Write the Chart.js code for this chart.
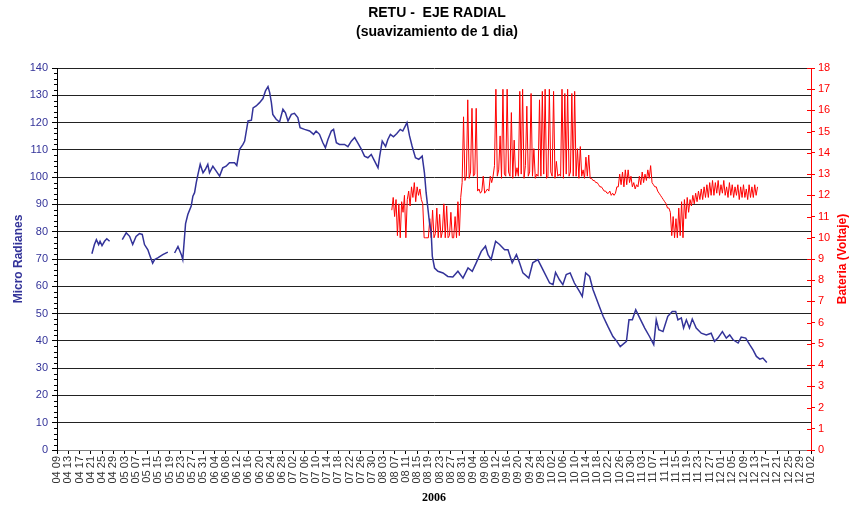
<!DOCTYPE html>
<html>
<head>
<meta charset="utf-8">
<script src="https://cdn.jsdelivr.net/npm/chart.js@4.4.0/dist/chart.umd.min.js"></script>
<style>
  html, body { margin: 0; padding: 0; background: #fff; }
</style>
</head>
<body>
<canvas id="retuChart" width="854" height="509"></canvas>
<script>
// dias contados desde el 9 de abril de 2006
const startDate = Date.UTC(2006, 3, 9);
const dayMax = 268;

const titleLines = ['RETU -  EJE RADIAL', '(suavizamiento de 1 dia)'];

// eje radial (micro radianes)
const blueDay = [12.4, 13.3, 14, 14.8, 15.3, 16, 16.9, 17.7, 18.7, 21,
  23.2, 24.6, 25.8, 26.9, 28.1, 29.3, 30.3, 31.1, 32.3, 32.9, 34, 34.7, 35.8, 37.6, 39.4, 40.5,
  41.8, 43, 44.2, 44.7, 45.7, 46.5, 47.7, 48.3, 48.9, 49.5, 50.1, 50.9, 51.9, 52.7, 53.6, 54.2,
  55.4, 56.6, 57.8, 58.9, 60.1, 61.3, 63.1, 63.9, 64.9, 66.1, 66.7, 67.9, 69.1, 69.7, 70.8, 72,
  73.2, 74.1, 75, 75.6, 76.2, 76.7, 77.9, 79.1, 80.3, 81.2, 82.1, 83.3, 84.4, 85.6, 86.4, 88,
  89.8, 91.2, 92.1, 93.3, 94.5, 95.4, 96.3, 97.5, 98.3, 99.3, 100.4, 102.2, 103.4, 104.6, 105.8,
  106.9, 108.1, 109.3, 110.5, 111.7, 112.9, 114.1, 114.7, 115.6, 116.8, 117.6, 118.5, 119.6,
  120.8, 122, 122.9, 124.4, 125.3, 126.2, 127.4, 128.6, 129.8, 130.6, 131.2, 132.4, 133, 133.4,
  134.2, 135.4, 137.2, 138.9, 140.7, 142.5, 144.3, 146.1, 147.6, 149, 150.8, 152.3, 153.2, 154.3,
  155.9, 157.3, 159.1, 160.3, 161.8, 163.3, 164.4, 165.6, 167.7, 169.1, 170.9, 172.7, 175.1,
  176.3, 177.2, 178.6, 179.8, 181, 182.4, 183.9, 185.7, 186.7, 187.9, 189.3, 190.5, 192.3, 194.1,
  195.8, 197.6, 199, 200.2, 202.4, 203.3, 204.5, 205.7, 207.1, 208.9, 210.6, 212.1, 213, 213.9,
  215.4, 217.1, 218.7, 219.9, 220.7, 221.9, 222.7, 223.7, 224.8, 225.8, 227.2, 229, 230.8, 232.5,
  233.7, 234.9, 236.5, 237.9, 239.1, 240.3, 242.1, 243.2, 244.8, 246.2, 247.4, 248.6, 249.8,
  250.9, 252.3];
const blueVal = [71.9, 75.3, 77.1, 75.3, 76.5, 74.9, 76.5, 77.4, 76.5, null,
  77.1, 79.6, 78.3, 75.3, 78.3, 79.3, 79.0, 75.3, 73.4, 71.6, 68.5, 69.8, 70.4, 71.6, 72.5, null,
  72.2, 74.6, 71.6, 69.8, 83, 86.3, 89.4, 93, 94.3, 98, 101, 104.7, 101.6, 102.8, 104.7, 101.6,
  104, 102.2, 100.4, 103.4, 104, 105.3, 105.3, 104.3, 110.2, 112, 113.2, 120.6, 120.9, 125.4, 126.1, 127.3,
  128.8, 131.6, 133.2, 131, 127.3, 123, 121.2, 120.2, 124.9, 123.6, 120.6, 123, 123.4, 121.8, 118.1, 117.5,
  116.9, 115.7, 116.9, 115.7, 112.6, 110.8, 113.8, 116.9, 117.5, 112.6, 112, 112, 111.2, 113.2, 114.5,
  112.6, 110.4, 107.7, 107.1, 108.3, 105.9, 103.4, 107.7, 113.2, 111.2, 113.8, 115.7, 114.8,
  116, 117.5, 116.9, 120, 115.1, 111.4, 107.1, 106.5, 107.7, 101.6, 94.3, 83.3, 79.6, 71,
  66.7, 65.5, 64.9, 63.6, 63.4, 65.5, 63, 66.7, 65.5, 68.6, 72.8, 74.7, 71.6, 69.8,
  76.5, 75.3, 73.4, 73.4, 68.6, 71.6, 68.6, 64.9, 63, 68.6, 69.8, 66.1, 61.2,
  60.6, 65.1, 62.4, 60.6, 64.3, 64.9, 61.2, 58.1, 56.3, 64.9, 63.6, 58.8, 53.9, 49,
  45.3, 41.6, 39.8, 37.9, 39.8, 47.7, 47.7, 51.4, 48.4, 44.7, 41.6, 38.6, 47.7, 44.1,
  43.4, 49, 50.8, 50.8, 47.7, 48.4, 44.7, 47.7, 44.7, 48, 44.7, 42.8, 42.2, 42.8,
  39.8, 41, 43.4, 41, 42.2, 40.4, 39.2, 41.4, 41, 38.6, 36.7, 34.3, 33.3,
  33.7, 32.1];

// bateria (voltaje), cada medio dia desde el dia 119
const redStart = 119;
const redVals = [
  11.3, 11.9, 11.0, 11.8, 10.1, 11.6, 10.0, 11.7, 11.2, 12.0, 10.0, 11.8, 12.2, 11.5, 12.4, 11.9,
  12.6, 11.7, 12.4, 12.0, 12.3, 11.8, 11.6,
  10.0, 10.0, 10.0, 10.0, 10.9, 10.0, 11.3, 10.0, 10.2, 11.4, 10.0, 11.1, 10.0, 10.3, 11.6, 10.0,
  11.5, 10.0, 10.1, 11.2, 10.0, 10.0, 11.0, 10.0, 11.7, 10.1, 11.9,
  12.6, 15.7, 12.7, 12.9, 16.5, 12.8, 13.1, 16.1, 12.9, 13.0, 16.1,
  12.2, 12.3, 12.1, 12.2, 12.9, 12.1, 12.2, 12.3, 12.2, 12.9, 12.6,
  12.9, 13.4, 17.0, 12.9, 13.2, 14.8, 12.8, 17.0, 13.0, 12.9, 17.0, 13.1, 12.9, 15.9, 12.8, 14.6,
  12.9, 13.3, 12.9, 16.9, 13.0, 17.0, 12.8, 13.4, 16.2, 12.9, 13.1, 16.8, 12.9, 14.2, 12.8, 13.0,
  12.9, 16.5, 12.9, 16.9, 13.0, 17.0, 12.8, 12.9, 17.0, 13.1, 12.9, 16.9, 12.8, 13.6, 12.9, 13.0,
  12.9, 17.0, 12.8, 16.8, 13.0, 17.0, 12.9, 13.1, 16.8, 12.9, 16.9,
  12.9, 14.2, 12.8, 14.3, 12.9, 13.2, 12.8, 13.8, 12.9, 13.9,
  12.8, 12.8, 12.7, 12.7, 12.6, 12.6, 12.5, 12.4, 12.4, 12.3, 12.2, 12.2, 12.1, 12.1, 12.2, 12.0,
  12.1, 12.0, 12.1, 12.4,
  12.4, 13.0, 12.5, 13.1, 12.4, 13.2, 12.5, 13.2, 12.6, 12.9, 12.4, 12.6, 12.3, 12.5, 12.4, 12.9,
  12.5, 13.1, 12.6, 13.0, 12.7, 13.2, 12.8, 13.4,
  12.6, 12.5, 12.4, 12.4, 12.2, 12.1, 12.0, 11.9, 11.8, 11.7, 11.6, 11.4, 11.4, 11.2,
  10.1, 11.0, 10.0, 10.9, 10.0, 11.4, 10.1, 11.7, 10.0, 11.8, 10.9, 11.9, 11.2, 11.8,
  11.5, 12.0, 11.6, 12.1, 11.7, 12.2, 11.8, 12.3, 11.8, 12.4, 11.9, 12.5, 11.9, 12.6, 12.0, 12.7,
  12.0, 12.6, 12.1, 12.7, 12.0, 12.5, 12.1, 12.7, 12.0, 12.4, 11.9, 12.6, 12.0, 12.5, 11.9, 12.4,
  12.0, 12.5, 11.8, 12.4, 11.9, 12.5, 11.9, 12.3, 11.8, 12.5, 11.9, 12.4, 11.9, 12.5, 12.0, 12.4
];

const NAVY = '#333399';
const RED = '#ff0000';
const SANS = "'Liberation Sans', Arial, sans-serif";

function pad2(n) { return (n < 10 ? '0' : '') + n; }
function dayLabel(v) {
  const d = new Date(startDate + v * 86400000);
  return pad2(d.getUTCMonth() + 1) + ' ' + pad2(d.getUTCDate());
}

const blueData = blueDay.map((d, i) => ({ x: d, y: blueVal[i] }));
const redData = redVals.map((v, i) => ({ x: redStart + i * 0.5, y: v }));

// titulo, marcas menores y titulo del eje derecho (texto de abajo hacia arriba)
const extras = {
  id: 'extras',
  afterDraw(chart) {
    const ctx = chart.ctx;
    const yl = chart.scales.y;
    const yr = chart.scales.y2;
    const a = chart.chartArea;
    ctx.save();
    ctx.fillStyle = '#000';
    ctx.font = 'bold 14px ' + SANS;
    ctx.textAlign = 'center';
    ctx.textBaseline = 'middle';
    ctx.fillText(titleLines[0], 437, 13);
    ctx.fillText(titleLines[1], 437, 32);

    ctx.lineWidth = 1;
    ctx.strokeStyle = '#000';
    for (let v = 0; v <= 140; v += 2) {
      if (v % 10 === 0) continue;
      const py = Math.round(yl.getPixelForValue(v)) + 0.5;
      ctx.beginPath();
      ctx.moveTo(a.left - 3, py);
      ctx.lineTo(a.left, py);
      ctx.stroke();
    }
    ctx.strokeStyle = RED;
    for (let v = 0; v <= 18; v++) {
      const py = Math.round(yr.getPixelForValue(v)) + 0.5;
      ctx.beginPath();
      ctx.moveTo(a.right - 4, py);
      ctx.lineTo(a.right, py);
      ctx.stroke();
    }
    ctx.translate(843, (a.top + a.bottom) / 2);
    ctx.rotate(-Math.PI / 2);
    ctx.fillStyle = RED;
    ctx.font = 'bold 12px ' + SANS;
    ctx.fillText('Bateria (Voltaje)', 0, 0);
    ctx.restore();
  }
};

const config = {
  type: 'line',
  data: {
    datasets: [
      {
        label: 'Micro Radianes',
        data: blueData,
        yAxisID: 'y',
        borderColor: NAVY,
        borderWidth: 1.5,
        pointRadius: 0,
        tension: 0,
        spanGaps: false,
        order: 1
      },
      {
        label: 'Bateria (Voltaje)',
        data: redData,
        yAxisID: 'y2',
        borderColor: RED,
        borderWidth: 1,
        pointRadius: 0,
        tension: 0,
        order: 2
      }
    ]
  },
  options: {
    responsive: false,
    animation: false,
    layout: { padding: { top: 68 } },
    plugins: {
      legend: { display: false },
      tooltip: { enabled: false },
      title: { display: false }
    },
    scales: {
      x: {
        type: 'linear',
        min: 0,
        max: dayMax,
        afterFit(scale) { scale.height = 59; },
        grid: { drawOnChartArea: false, drawTicks: true, tickLength: 4, color: '#000' },
        border: { color: '#808080' },
        ticks: {
          stepSize: 4,
          maxTicksLimit: 100,
          autoSkip: false,
          minRotation: 90,
          maxRotation: 90,
          padding: 2,
          color: '#333',
          font: { family: SANS, size: 11 },
          callback: (v) => dayLabel(v)
        },
        title: {
          display: true,
          text: '2006',
          color: '#000',
          font: { family: "'Liberation Serif', 'Times New Roman', serif", size: 12, weight: 'bold' },
          padding: { top: 0, bottom: 4 }
        }
      },
      y: {
        position: 'left',
        min: 0,
        max: 140,
        afterFit(scale) { scale.width = 57; },
        grid: { color: '#222', lineWidth: 1, tickLength: 5, tickColor: '#000' },
        border: { color: '#000' },
        ticks: {
          stepSize: 10,
          padding: 4,
          color: NAVY,
          font: { family: SANS, size: 11 }
        },
        title: {
          display: true,
          text: 'Micro Radianes',
          color: NAVY,
          font: { family: SANS, size: 12, weight: 'bold' },
          padding: { top: 11, bottom: 0 }
        }
      },
      y2: {
        position: 'right',
        min: 0,
        max: 18,
        afterFit(scale) { scale.width = 43; },
        grid: { drawOnChartArea: false, tickLength: 4, tickColor: RED },
        border: { color: RED },
        ticks: {
          stepSize: 1,
          maxTicksLimit: 20,
          padding: 3,
          color: RED,
          font: { family: SANS, size: 11 }
        }
      }
    }
  },
  plugins: [extras]
};

window.onload = function () {
  const ctx = document.getElementById('retuChart').getContext('2d');
  new Chart(ctx, config);
};
</script>
</body>
</html>
